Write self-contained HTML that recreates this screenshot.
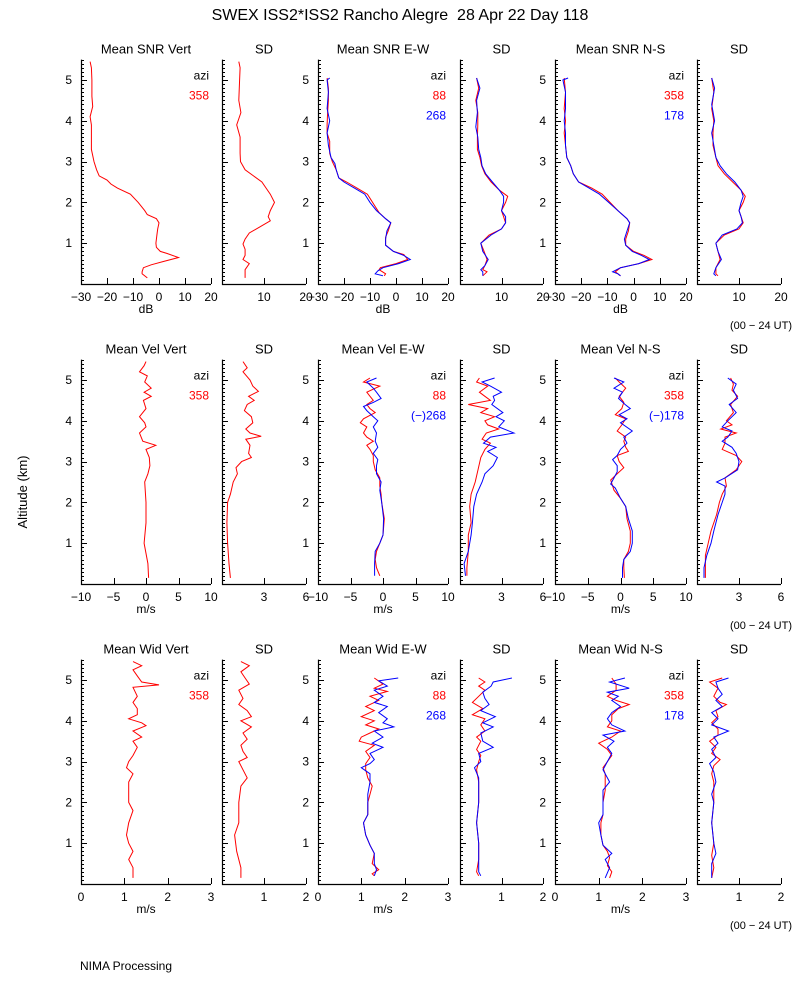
<!DOCTYPE html>
<html><head><meta charset="utf-8"><style>
html,body{margin:0;padding:0;background:#fff}
svg{display:block;font-family:"Liberation Sans",sans-serif}
</style></head><body>
<svg id="chart" width="800" height="1000" viewBox="0 0 800 1000" xmlns="http://www.w3.org/2000/svg">
<text x="400" y="20" text-anchor="middle" font-size="16">SWEX ISS2*ISS2 Rancho Alegre &#160;28 Apr 22 Day 118</text>
<text x="0" y="0" transform="translate(27,492) rotate(-90)" text-anchor="middle" font-size="13">Altitude (km)</text>
<text x="80" y="970" font-size="12">NIMA Processing</text>
<g id="plots"></g>
</svg>
<script>
// ---- data: [altitude km, value] ----
const snrVert=[[5.45,-26.5],[5.3,-26],[5.0,-25.8],[4.6,-25.8],[4.35,-25.5],[4.1,-26.5],[3.9,-26],[3.6,-26],[3.3,-26],[3.0,-25],[2.8,-24],[2.65,-23],[2.55,-20],[2.45,-18.5],[2.35,-16],[2.2,-11],[2.0,-8],[1.8,-5.5],[1.7,-4.5],[1.6,-1],[1.5,0],[1.35,-0.5],[1.2,-0.8],[1.0,-1.2],[0.9,-1],[0.8,0.5],[0.75,3],[0.65,7.5],[0.55,1.5],[0.47,-3],[0.4,-6],[0.3,-6.5],[0.25,-6.5],[0.15,-4.5]];
const snrVertSd=[[5.45,4],[5.3,4.3],[5,4.2],[4.5,4],[4.2,4.5],[3.9,3.5],[3.6,4.3],[3.2,4.3],[3,4.4],[2.8,5.5],[2.65,7.5],[2.5,9.5],[2.35,10.5],[2.2,11.5],[2.0,12.5],[1.8,11.5],[1.65,11],[1.55,11.5],[1.4,9],[1.25,6.5],[1.1,5.5],[0.98,5],[0.85,5.5],[0.7,5.5],[0.6,5],[0.5,6.5],[0.35,5.5],[0.15,5.5]];
const snrEwRed=[[5.05,-26.5],[4.8,-26],[4.5,-26],[4.2,-26.3],[3.9,-26.5],[3.7,-26.5],[3.5,-25.5],[3.2,-25.5],[3.0,-24.5],[2.8,-23],[2.6,-22],[2.5,-19],[2.35,-15],[2.2,-11],[2.1,-10],[1.9,-8],[1.75,-6.5],[1.6,-4],[1.5,-2],[1.3,-3],[1.15,-4],[0.95,-4],[0.8,-1],[0.72,3],[0.6,4.5],[0.5,0],[0.4,-6],[0.35,-6.5],[0.25,-4],[0.2,-4.5]];
const snrEwBlue=[[5.05,-25.5],[5.0,-26.5],[4.7,-26],[4.3,-26.5],[4.0,-25.5],[3.7,-26.5],[3.4,-26],[3.1,-25],[2.95,-23.5],[2.8,-23],[2.6,-22],[2.5,-20],[2.35,-16],[2.2,-12],[2.0,-10],[1.8,-7.5],[1.6,-4],[1.5,-2],[1.3,-3.5],[1.1,-4],[0.95,-4],[0.8,-1],[0.7,3],[0.6,5.5],[0.5,1],[0.4,-5],[0.32,-7],[0.25,-8],[0.2,-5]];
const snrEwSdRed=[[5.05,4],[4.8,4.5],[4.5,3.8],[4.2,4.3],[3.9,4.3],[3.6,4.2],[3.3,4.2],[3.1,4.8],[2.9,5.2],[2.7,6],[2.5,7.5],[2.3,9.5],[2.15,11.5],[2.0,11],[1.8,10],[1.65,10.5],[1.5,11],[1.35,10],[1.2,7],[1.0,5],[0.8,5.8],[0.6,6.5],[0.45,6],[0.35,5.5],[0.3,6.5],[0.2,5.5]];
const snrEwSdBlue=[[5.05,4],[4.8,4.8],[4.5,4],[4.2,4.2],[3.85,3.8],[3.6,4.3],[3.3,4.5],[3.1,5],[2.9,5.3],[2.7,6.2],[2.5,7.8],[2.3,9.5],[2.15,10.5],[2.0,10.5],[1.8,10],[1.65,11],[1.5,11],[1.35,10],[1.2,7.5],[1.0,5],[0.8,5.5],[0.6,6.8],[0.45,6],[0.35,5],[0.3,5.5],[0.2,5.5]];
const snrNsRed=[[5.05,-26.5],[4.7,-26],[4.3,-26.5],[4.0,-26],[3.7,-26.5],[3.4,-26],[3.1,-25.5],[2.9,-24],[2.7,-23],[2.5,-21],[2.35,-16],[2.2,-12],[2.0,-9],[1.8,-6],[1.6,-2.5],[1.5,-1.5],[1.3,-2],[1.1,-3],[0.95,-3],[0.8,0],[0.7,4],[0.6,7],[0.5,2],[0.4,-5],[0.3,-7],[0.25,-6],[0.2,-5]];
const snrNsBlue=[[5.05,-25],[5.0,-27],[4.7,-26],[4.3,-26],[4.0,-26.5],[3.7,-26],[3.4,-26],[3.1,-25.5],[2.9,-24],[2.7,-23],[2.5,-21],[2.35,-17],[2.2,-13],[2.0,-9.5],[1.8,-6],[1.6,-2.5],[1.5,-1.5],[1.3,-2.5],[1.1,-3.5],[0.95,-3],[0.8,-0.5],[0.7,3],[0.6,6],[0.5,2],[0.4,-5],[0.3,-8],[0.25,-6],[0.2,-5]];
const snrNsSdRed=[[5.05,3.5],[4.7,4],[4.3,3.5],[4.0,4],[3.7,3.8],[3.4,3.8],[3.1,4.5],[2.9,5],[2.7,6.5],[2.5,8.5],[2.3,10.5],[2.15,11.5],[2.0,11],[1.8,10],[1.65,10.5],[1.5,11],[1.35,10],[1.2,6.5],[1.0,4.5],[0.8,5],[0.6,5.5],[0.4,4.5],[0.25,4.5],[0.2,5]];
const snrNsSdBlue=[[5.05,3.5],[4.8,4.2],[4.4,3.5],[4.0,4.2],[3.7,3.5],[3.4,4],[3.1,4.5],[2.9,5.5],[2.7,7],[2.5,9],[2.3,10.5],[2.15,11],[2.0,10.5],[1.8,10],[1.65,10.5],[1.5,10.8],[1.35,9.5],[1.2,6],[1.0,4.5],[0.8,5],[0.6,5.8],[0.4,4.5],[0.25,4],[0.2,4.5]];
const velVert=[[5.45,0],[5.35,-0.3],[5.2,-1],[5.1,0.2],[4.95,-0.2],[4.8,0.8],[4.7,-0.3],[4.6,0.8],[4.5,-0.4],[4.3,0],[4.1,-1],[3.95,-0.2],[3.85,0],[3.7,-1],[3.5,-0.5],[3.4,1.5],[3.3,0],[3.1,0.5],[2.9,0.6],[2.7,0.3],[2.5,-0.2],[2,0],[1.5,0],[1.0,-0.3],[0.5,0.3],[0.15,0.4]];
const velVertSd=[[5.45,1.5],[5.3,1.8],[5.2,1.5],[5.0,2.0],[4.85,2.2],[4.72,2.6],[4.6,1.9],[4.5,2.3],[4.4,1.8],[4.25,1.6],[4.1,2.1],[3.95,2.2],[3.8,1.7],[3.7,2.0],[3.62,2.8],[3.55,1.7],[3.4,2.0],[3.2,1.9],[3.1,2.1],[3.0,1.4],[2.85,1.0],[2.7,1.1],[2.5,0.8],[2.2,0.6],[2.0,0.4],[1.5,0.35],[1.0,0.4],[0.5,0.5],[0.15,0.6]];
const velEwRed=[[5.05,-2],[4.95,-3],[4.85,-0.5],[4.7,-2.5],[4.6,-2],[4.5,-1.5],[4.4,-2.5],[4.3,-2],[4.2,-1.2],[4.05,-3],[3.95,-3.5],[3.85,-2.5],[3.7,-3],[3.6,-2.5],[3.5,-1.5],[3.4,-2.5],[3.3,-2],[3.15,-1.5],[3.0,-1.5],[2.8,-1.2],[2.6,-0.5],[2.4,-0.5],[2.2,-0.3],[2.0,-0.2],[1.6,0.2],[1.2,0],[1.0,-0.5],[0.8,-1],[0.6,-1.2],[0.4,-1],[0.2,-0.5]];
const velEwBlue=[[5.05,-1],[4.95,-2.5],[4.8,-1.5],[4.7,-1],[4.55,-0.3],[4.45,-1.5],[4.35,-3],[4.25,-2.5],[4.1,-1.5],[4.0,-0.8],[3.85,-1.5],[3.7,-1],[3.5,-1.2],[3.35,-0.8],[3.2,-1.5],[3.05,-0.8],[2.9,-1],[2.7,-1],[2.5,-0.3],[2.3,-0.5],[2.0,-0.2],[1.6,0.1],[1.2,0],[1.0,-0.5],[0.8,-1.2],[0.5,-1.3],[0.2,-1.3]];
const velEwSdRed=[[5.05,1.4],[4.95,1.2],[4.85,2.0],[4.7,1.4],[4.6,1.8],[4.5,2.2],[4.4,0.6],[4.3,2.0],[4.2,1.5],[4.1,2.5],[4.0,1.8],[3.9,2.0],[3.8,2.8],[3.7,1.9],[3.55,1.6],[3.45,2.2],[3.3,1.8],[3.1,1.5],[2.8,1.3],[2.5,1.1],[2.2,0.8],[1.9,0.7],[1.5,0.8],[1.2,0.6],[0.8,0.6],[0.4,0.5],[0.2,0.5]];
const velEwSdBlue=[[5.05,2.5],[4.95,1.6],[4.85,2.2],[4.7,3.0],[4.6,2.4],[4.5,2.5],[4.4,2.3],[4.2,3.1],[4.1,2.6],[4.0,3.2],[3.85,2.8],[3.7,3.9],[3.6,2.2],[3.45,1.7],[3.35,2.6],[3.25,2.0],[3.1,2.7],[2.9,2.4],[2.7,1.8],[2.5,1.6],[2.2,1.2],[1.9,1.0],[1.5,0.9],[1.2,0.8],[0.8,0.6],[0.5,0.3],[0.2,0.4]];
const velNsRed=[[5.05,-0.8],[4.95,-0.2],[4.8,0.8],[4.7,0.3],[4.6,-0.2],[4.45,0.5],[4.3,0.2],[4.15,-0.8],[4.05,0.8],[3.9,0.2],[3.75,-0.5],[3.6,0.8],[3.5,0.5],[3.35,0.8],[3.25,1.2],[3.15,-0.5],[3.0,-0.2],[2.85,0.5],[2.7,-0.5],[2.55,-1.5],[2.45,-1.3],[2.3,-1],[2.1,0],[1.9,0.8],[1.6,1.0],[1.3,1.5],[1.0,1.5],[0.8,1.2],[0.6,0.5],[0.4,0.5],[0.15,0.6]];
const velNsBlue=[[5.05,-1],[4.95,0.5],[4.8,-1],[4.7,0.3],[4.55,-0.3],[4.4,0.7],[4.3,1.5],[4.15,-0.2],[4.05,1.0],[3.95,0],[3.75,1.8],[3.6,0.5],[3.45,1.0],[3.3,0],[3.15,-0.5],[3.05,-1.2],[2.9,-0.5],[2.75,-0.5],[2.6,-1],[2.45,-1.5],[2.35,-0.8],[2.1,0],[1.9,0.8],[1.6,1.2],[1.3,1.8],[1.0,1.8],[0.8,1.5],[0.6,0.5],[0.4,0.3],[0.15,0.3]];
const velNsSdRed=[[5.05,2.4],[4.9,2.6],[4.75,2.5],[4.6,2.9],[4.4,2.4],[4.2,2.6],[4.0,2.1],[3.9,2.5],[3.8,1.7],[3.7,2.8],[3.6,2.0],[3.45,2.0],[3.3,1.8],[3.15,2.8],[3.0,3.2],[2.8,2.8],[2.6,2.0],[2.4,2.1],[2.2,1.8],[2.0,1.6],[1.7,1.4],[1.3,1.0],[1.0,0.8],[0.7,0.6],[0.3,0.6],[0.15,0.6]];
const velNsSdBlue=[[5.05,2.2],[4.9,2.8],[4.75,2.6],[4.55,2.9],[4.4,2.3],[4.2,2.8],[4.0,2.2],[3.85,1.8],[3.75,2.5],[3.6,2.2],[3.5,1.8],[3.35,2.5],[3.2,2.8],[3.0,3.0],[2.8,2.9],[2.6,2.0],[2.5,1.4],[2.4,2.0],[2.2,2.0],[2.0,1.8],[1.7,1.5],[1.3,1.2],[1.0,1.0],[0.7,0.7],[0.4,0.5],[0.15,0.5]];
const widVert=[[5.45,1.2],[5.35,1.4],[5.25,1.2],[5.1,1.3],[4.95,1.4],[4.88,1.8],[4.82,1.2],[4.6,1.3],[4.45,1.2],[4.3,1.3],[4.15,1.3],[4.05,1.1],[3.95,1.4],[3.88,1.5],[3.75,1.2],[3.6,1.4],[3.5,1.2],[3.35,1.3],[3.15,1.2],[3.0,1.1],[2.85,1.05],[2.7,1.2],[2.5,1.1],[2.0,1.1],[1.8,1.2],[1.5,1.1],[1.2,1.05],[1.0,1.1],[0.8,1.2],[0.6,1.1],[0.4,1.2],[0.15,1.2]];
const widVertSd=[[5.45,0.45],[5.35,0.65],[5.2,0.45],[5.05,0.55],[4.9,0.65],[4.75,0.4],[4.55,0.5],[4.4,0.4],[4.25,0.6],[4.1,0.7],[4.0,0.45],[3.85,0.7],[3.7,0.5],[3.55,0.6],[3.4,0.45],[3.25,0.5],[3.1,0.6],[3.0,0.4],[2.8,0.5],[2.6,0.6],[2.4,0.45],[2.0,0.4],[1.5,0.4],[1.2,0.3],[0.8,0.35],[0.4,0.45],[0.15,0.45]];
const widEwRed=[[5.05,1.3],[4.9,1.5],[4.8,1.3],[4.72,1.6],[4.6,1.2],[4.5,1.4],[4.35,1.1],[4.25,1.3],[4.1,1.0],[4.0,1.3],[3.9,1.1],[3.8,1.4],[3.7,1.2],[3.6,1.0],[3.5,0.95],[3.4,1.3],[3.25,1.1],[3.1,1.2],[2.95,1.1],[2.8,1.1],[2.6,1.15],[2.4,1.25],[2.2,1.2],[2.0,1.15],[1.7,1.15],[1.5,1.05],[1.2,1.1],[0.95,1.2],[0.75,1.3],[0.5,1.25],[0.35,1.4],[0.25,1.25],[0.2,1.3]];
const widEwBlue=[[5.05,1.85],[4.98,1.4],[4.85,1.6],[4.75,1.3],[4.6,1.5],[4.45,1.3],[4.35,1.6],[4.2,1.4],[4.05,1.6],[3.95,1.5],[3.85,1.75],[3.75,1.3],[3.6,1.5],[3.45,1.25],[3.35,1.5],[3.2,1.2],[3.05,1.3],[2.95,1.2],[2.85,1.0],[2.7,1.2],[2.5,1.2],[2.2,1.15],[2.0,1.15],[1.7,1.15],[1.5,1.05],[1.2,1.1],[0.95,1.2],[0.75,1.3],[0.5,1.3],[0.35,1.35],[0.2,1.3]];
const widEwSdRed=[[5.05,0.45],[4.95,0.6],[4.85,0.45],[4.75,0.6],[4.6,0.45],[4.45,0.3],[4.3,0.55],[4.15,0.3],[4.05,0.6],[3.9,0.5],[3.75,0.6],[3.6,0.4],[3.5,0.5],[3.3,0.4],[3.15,0.5],[3.0,0.45],[2.8,0.4],[2.5,0.45],[2.0,0.45],[1.5,0.4],[1.0,0.45],[0.6,0.45],[0.3,0.4],[0.2,0.45]];
const widEwSdBlue=[[5.05,1.25],[4.95,0.8],[4.85,0.75],[4.7,0.55],[4.55,0.6],[4.4,0.7],[4.25,0.5],[4.1,0.85],[3.95,0.55],[3.85,0.8],[3.7,0.5],[3.5,0.55],[3.35,0.8],[3.2,0.45],[3.0,0.5],[2.85,0.35],[2.6,0.45],[2.2,0.45],[2.0,0.45],[1.5,0.4],[1.0,0.45],[0.6,0.45],[0.3,0.45],[0.2,0.5]];
const widNsRed=[[5.05,1.3],[4.9,1.4],[4.75,1.4],[4.6,1.2],[4.5,1.4],[4.4,1.7],[4.3,1.45],[4.15,1.3],[4.0,1.3],[3.85,1.2],[3.75,1.5],[3.6,1.3],[3.45,1.0],[3.3,1.2],[3.15,1.3],[3.0,1.2],[2.85,1.1],[2.7,1.15],[2.5,1.15],[2.3,1.15],[2.0,1.1],[1.7,1.1],[1.5,1.05],[1.2,1.05],[0.95,1.1],[0.8,1.2],[0.65,1.25],[0.45,1.2],[0.3,1.3],[0.15,1.25]];
const widNsBlue=[[5.05,1.6],[4.95,1.25],[4.8,1.7],[4.7,1.2],[4.6,1.45],[4.5,1.3],[4.35,1.5],[4.2,1.3],[4.05,1.2],[3.9,1.3],[3.75,1.6],[3.65,1.1],[3.5,1.35],[3.35,1.2],[3.2,1.3],[3.0,1.2],[2.8,1.1],[2.6,1.2],[2.5,1.25],[2.3,1.1],[2.0,1.1],[1.7,1.1],[1.5,1.0],[1.2,1.05],[0.95,1.1],[0.75,1.3],[0.6,1.15],[0.4,1.25],[0.15,1.15]];
const widNsSdRed=[[5.05,0.6],[4.95,0.3],[4.8,0.5],[4.6,0.4],[4.45,0.55],[4.4,0.7],[4.25,0.45],[4.1,0.5],[3.95,0.35],[3.8,0.5],[3.65,0.5],[3.5,0.3],[3.35,0.45],[3.2,0.35],[3.05,0.55],[2.9,0.4],[2.7,0.35],[2.5,0.4],[2.0,0.4],[1.5,0.35],[1.0,0.4],[0.7,0.35],[0.4,0.4],[0.15,0.35]];
const widNsSdBlue=[[5.05,0.75],[4.95,0.45],[4.8,0.5],[4.65,0.6],[4.5,0.45],[4.35,0.6],[4.2,0.35],[4.05,0.5],[3.9,0.35],[3.75,0.75],[3.6,0.4],[3.45,0.5],[3.3,0.35],[3.1,0.45],[2.95,0.3],[2.75,0.4],[2.5,0.45],[2.2,0.35],[2.0,0.4],[1.5,0.35],[1.0,0.4],[0.75,0.45],[0.5,0.35],[0.15,0.35]];

const snrTicks=[-30,-20,-10,0,10,20], snrSdTicks=[10,20];
const velTicks=[-10,-5,0,5,10], velSdTicks=[3,6];
const widTicks=[0,1,2,3], widSdTicks=[1,2];
const altTicks=[1,2,3,4,5];

const NS='http://www.w3.org/2000/svg';
const root=document.getElementById('plots');
const colL=[81,222,318,460,555,697], colR=[211,306,448,543,686,781];
const rowBase=[284,584,884], KM=40.8;
function mk(tag,attrs,parent){const e=document.createElementNS(NS,tag);for(const k in attrs)e.setAttribute(k,attrs[k]);(parent||root).appendChild(e);return e;}

const panels=[
 [0,0,'Mean SNR Vert',-30,20,snrTicks,'dB',['358'],[[snrVert,'red']]],
 [0,1,'SD',0,20,snrSdTicks,'',null,[[snrVertSd,'red']]],
 [0,2,'Mean SNR E-W',-30,20,snrTicks,'dB',['88','268'],[[snrEwRed,'red'],[snrEwBlue,'blue']]],
 [0,3,'SD',0,20,snrSdTicks,'',null,[[snrEwSdRed,'red'],[snrEwSdBlue,'blue']]],
 [0,4,'Mean SNR N-S',-30,20,snrTicks,'dB',['358','178'],[[snrNsRed,'red'],[snrNsBlue,'blue']]],
 [0,5,'SD',0,20,snrSdTicks,'',null,[[snrNsSdRed,'red'],[snrNsSdBlue,'blue']]],
 [1,0,'Mean Vel Vert',-10,10,velTicks,'m/s',['358'],[[velVert,'red']]],
 [1,1,'SD',0,6,velSdTicks,'',null,[[velVertSd,'red']]],
 [1,2,'Mean Vel E-W',-10,10,velTicks,'m/s',['88','(\u2212)268'],[[velEwRed,'red'],[velEwBlue,'blue']]],
 [1,3,'SD',0,6,velSdTicks,'',null,[[velEwSdRed,'red'],[velEwSdBlue,'blue']]],
 [1,4,'Mean Vel N-S',-10,10,velTicks,'m/s',['358','(\u2212)178'],[[velNsRed,'red'],[velNsBlue,'blue']]],
 [1,5,'SD',0,6,velSdTicks,'',null,[[velNsSdRed,'red'],[velNsSdBlue,'blue']]],
 [2,0,'Mean Wid Vert',0,3,widTicks,'m/s',['358'],[[widVert,'red']]],
 [2,1,'SD',0,2,widSdTicks,'',null,[[widVertSd,'red']]],
 [2,2,'Mean Wid E-W',0,3,widTicks,'m/s',['88','268'],[[widEwRed,'red'],[widEwBlue,'blue']]],
 [2,3,'SD',0,2,widSdTicks,'',null,[[widEwSdRed,'red'],[widEwSdBlue,'blue']]],
 [2,4,'Mean Wid N-S',0,3,widTicks,'m/s',['358','178'],[[widNsRed,'red'],[widNsBlue,'blue']]],
 [2,5,'SD',0,2,widSdTicks,'',null,[[widNsSdRed,'red'],[widNsSdBlue,'blue']]]
];
const colors={red:'#ff0000',blue:'#0000ff'};

panels.forEach((p,i)=>{
 const [row,col,title,xmin,xmax,ticks,unit,legend,series]=p;
 const L=colL[col],R=colR[col],B=rowBase[row],T=B-5.5*KM;
 const xs=v=>L+(v-xmin)/(xmax-xmin)*(R-L);
 const ys=a=>B-a*KM;
 const g=mk('g',{});
 
 
 const t=mk('text',{x:(L+R)/2,y:T-6,'text-anchor':'middle','font-size':13},g);t.textContent=title;
 
 
 const ax=mk('path',{d:`M${L+0.5},${T}V${B+0.5}H${R}`,stroke:'#000','stroke-width':1.2,fill:'none'},g);
 
 
 let td='';
 for(let k=1;k<=55;k++){const y=Math.round(ys(k/10))+0.5;td+=`M${L},${y}h${k%10===0?6:3}`;}
 ticks.forEach(v=>{const x=Math.round(xs(v))+0.5;td+=`M${x},${B}v-6`;});
 const tk=mk('path',{d:td,stroke:'#000','stroke-width':1,fill:'none'},g);
 
 
 if(col%2===0){
  altTicks.forEach(a=>{const e=mk('text',{x:L-9,y:ys(a)+4,'text-anchor':'end','font-size':12},g);e.textContent=a;
   
   });
 }
 ticks.forEach(v=>{const e=mk('text',{x:xs(v),y:B+17,'text-anchor':'middle','font-size':12},g);e.textContent=v<0?'\u2212'+(-v):v;
  
  });
 if(unit){const e=mk('text',{x:(L+R)/2,y:B+29,'text-anchor':'middle','font-size':12},g);e.textContent=unit;
  
  }
 if(legend){
  const a=mk('text',{x:R-2,y:T+20,'text-anchor':'end','font-size':12,fill:'#000'},g);a.textContent='azi';
  
  
  legend.forEach((s,j)=>{const e=mk('text',{x:R-2,y:T+40+20*j,'text-anchor':'end','font-size':12,fill:j?colors.blue:colors.red},g);e.textContent=s;
   
   });
 }
 series.forEach(([data,c])=>{
  const d=data.map((pt,j)=>(j?'L':'M')+xs(pt[1]).toFixed(1)+','+ys(pt[0]).toFixed(1)).join('');
  const e=mk('path',{d:d,stroke:colors[c],'stroke-width':1,fill:'none'},g);
  
  
 });
 if(col===5){const e=mk('text',{x:792,y:B+45,'text-anchor':'end','font-size':11},g);e.textContent='(00 \u2212 24 UT)';
  
  }
});
</script>
</body></html>
